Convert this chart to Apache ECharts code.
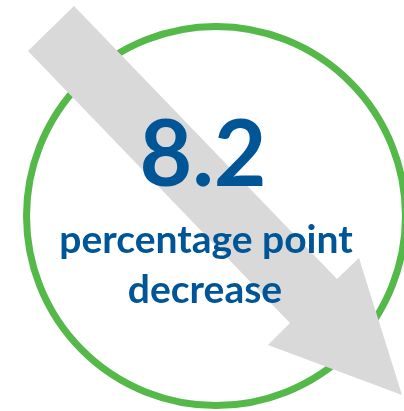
<!DOCTYPE html>
<html>
<head>
<meta charset="utf-8">
<script src="https://cdn.jsdelivr.net/npm/echarts@6/dist/echarts.min.js"></script>
<style>
html,body{margin:0;padding:0;background:#fff;}
#c{width:404px;height:411px;}
</style>
</head>
<body>
<div id="c"></div>
<script>
// Data
var headlineValue = ['8.2'];
var captionLines = ['percentage point', 'decrease'];

var BLUE = '#005597';
var GREEN = '#54B948';
var GRAY = '#D9D9D9';

var chart = echarts.init(document.getElementById('c'), null, {renderer: 'canvas'});
chart.setOption({
  backgroundColor: '#ffffff',
  graphic: [
    {
      type: 'circle',
      shape: {cx: 216, cy: 216, r: 189.5},
      style: {fill: 'none', stroke: GREEN, lineWidth: 7},
      z: 1
    },
    {
      type: 'polygon',
      shape: {points: [[74,6],[337,279],[359,258],[402,395],[268,345],[290,323],[28,51]]},
      style: {fill: GRAY},
      z: 2
    },
    {
      type: 'text',
      x: 203, y: 157,
      style: {
        text: headlineValue[0],
        fill: BLUE,
        font: 'bold 91px Lato',
        align: 'center',
        verticalAlign: 'middle'
      },
      z: 3
    },
    {
      type: 'text',
      x: 206, y: 240,
      style: {
        text: captionLines[0],
        fill: BLUE,
        font: 'bold 39px Lato',
        align: 'center',
        verticalAlign: 'middle'
      },
      z: 3
    },
    {
      type: 'text',
      x: 205, y: 290,
      style: {
        text: captionLines[1],
        fill: BLUE,
        font: 'bold 39px Lato',
        align: 'center',
        verticalAlign: 'middle'
      },
      z: 3
    }
  ]
});
</script>
</body>
</html>
